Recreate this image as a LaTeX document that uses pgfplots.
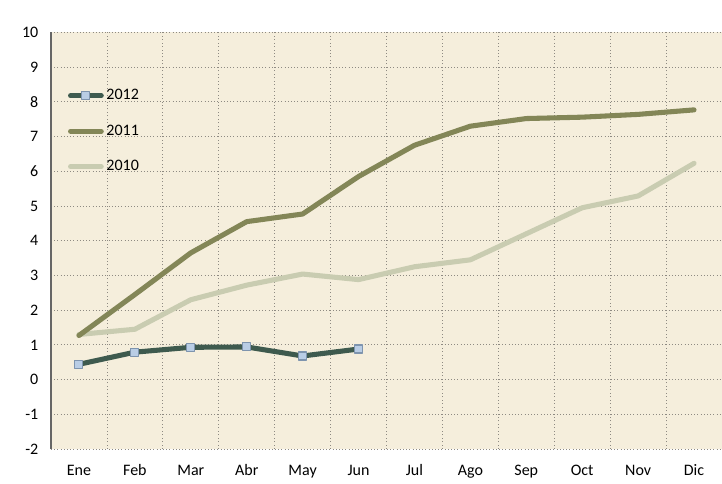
\documentclass[border=0pt]{standalone}
\usepackage{pgfplots}
\pgfplotsset{compat=1.18}
\usepackage{fontspec}
\setmainfont{Carlito}
\definecolor{bgc}{HTML}{F5EEDC}
\definecolor{gridc}{HTML}{8E8A82}
\definecolor{c12}{HTML}{3E5A4E}
\definecolor{c11}{HTML}{838657}
\definecolor{c10}{HTML}{C9CCB1}
\definecolor{mfill}{HTML}{B9CDE5}
\definecolor{mdraw}{HTML}{7E94AE}
\begin{document}
\begin{tikzpicture}[x=1pt,y=1pt]
\begin{axis}[
  at={(0,0)}, anchor=south west,
  scale only axis, width=503.25pt, height=312.4pt,
  xmin=-0.5, xmax=11.5, ymin=-2, ymax=10,
  axis background/.style={fill=bgc},
  axis lines*=left,
  x axis line style={draw=none},
  y axis line style={draw=gray!80!black, line width=0.8pt},
  xtick={0,...,11},
  xticklabels={Ene,Feb,Mar,Abr,May,Jun,Jul,Ago,Sep,Oct,Nov,Dic},
  minor xtick={-0.5,0.5,...,11.5},
  ytick={-2,-1,...,10},
  major tick length=0pt, minor tick length=0pt,
  ymajorgrids, xminorgrids,
  grid style={gridc, dotted, line width=0.6pt},
  minor grid style={gridc, dotted, line width=0.6pt},
  tick label style={font=\fontsize{12}{14}\selectfont},
  /pgf/number format/assume math mode=true,
  xticklabel style={yshift=-9pt, text height=1.6ex, text depth=0.3ex},
  yticklabel style={xshift=-6pt},
  legend style={at={(0.025,0.870)}, anchor=north west, draw=none, fill=none,
    font=\fontsize{12}{14}\selectfont, row sep=13.3pt, inner sep=0pt},
  legend cell align=left,
  reverse legend,
  legend image code/.code={
    \draw[#1, mark repeat=2, mark phase=2] plot coordinates {(0pt,0pt) (11.5pt,0pt) (23pt,0pt)};
  },
  clip=false,
]
\addplot[c10, line width=3.8pt, line join=round, line cap=round] coordinates {
(0,1.30) (1,1.45) (2,2.30) (3,2.72) (4,3.04) (5,2.88) (6,3.25) (7,3.45) (8,4.20) (9,4.95) (10,5.29) (11,6.23)};
\addlegendentry{2010}
\addplot[c11, line width=3.8pt, line join=round, line cap=round] coordinates {
(0,1.27) (1,2.45) (2,3.65) (3,4.55) (4,4.77) (5,5.85) (6,6.75) (7,7.30) (8,7.52) (9,7.56) (10,7.64) (11,7.77)};
\addlegendentry{2011}
\addplot[c12, line width=3.8pt, line join=round, line cap=round, mark=square*,
  mark size=3pt, mark options={fill=mfill, draw=mdraw, line width=0.8pt, solid}] coordinates {
(0,0.44) (1,0.79) (2,0.93) (3,0.94) (4,0.68) (5,0.88)};
\addlegendentry{2012}
\end{axis}
\pgfresetboundingbox
\path (-38.25pt,-25.5pt) rectangle (503.25pt,336.75pt);
\end{tikzpicture}
\end{document}
